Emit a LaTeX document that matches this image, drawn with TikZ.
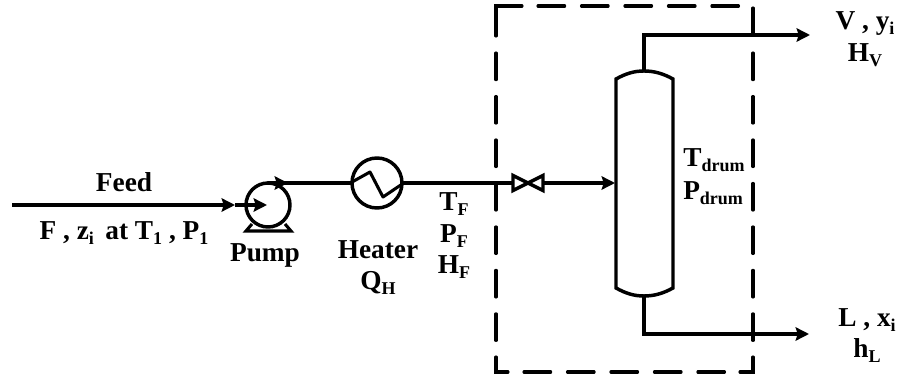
\documentclass[tikz,border=0pt]{standalone}
\usepackage{fontspec}
\setmainfont{Liberation Serif}
\usetikzlibrary{arrows.meta}
\tikzset{
 pipe/.style={line width=2.3pt,line cap=round},
 flow/.style={line width=2.3pt,-{Stealth[length=10pt,width=10pt,inset=1.5pt]}},
 equip/.style={line width=2.6pt,fill=white,draw=black},
 lbl/.style={font=\bfseries\fontsize{20.5}{22}\selectfont,inner sep=0pt,anchor=base},
 boxd/.style={line width=2.3pt,line cap=round,line join=miter,dash pattern=on 20pt off 12.6pt},
 boxs/.style={line width=2.3pt,line cap=round,line join=miter}
}
\newcommand{\sbs}[1]{\raisebox{-0.18em}{\fontsize{13.5}{14}\selectfont #1}}
\begin{document}
\begin{tikzpicture}[x=0.75pt,y=-0.75pt]
\useasboundingbox (0,0) rectangle (899,377);
% envelope
\draw[boxs] (522,6) -- (496,6) -- (496,36);
\draw[boxd] (538,6) -- (740,6);
\draw[boxd] (496,53) -- (496,342);
\draw[boxs] (496,357) -- (496,372) -- (508,372);
\draw[boxd] (524,372) -- (726,372);
\draw[boxs] (740,372) -- (753,372) -- (753,357);
\draw[boxd] (753,53) -- (753,342);
\draw[boxs] (753,8) -- (753,34);
% equipment nodes
\node[circle,equip,minimum size=33pt,inner sep=0pt] (pump) at (268,205) {};
\node[circle,equip,minimum size=37.5pt,inner sep=0pt] (heater) at (377,183) {};
\coordinate (feedstart) at (12,205);
\coordinate (feedtip) at (235,205);
\coordinate (pumpinner) at (267,205);
\coordinate (pumptop) at (268,183);
\coordinate (pumparrow) at (288,183);
\coordinate (valvein) at (513,183);
\coordinate (valveout) at (543,183);
\coordinate (drumin) at (615,183);
\coordinate (drumtop) at (644,71);
\coordinate (drumbot) at (644,296);
\coordinate (vbend) at (644,35);
\coordinate (vtip) at (810,35);
\coordinate (lbend) at (644,334);
\coordinate (ltip) at (809,334);
% pump base
\coordinate (pbl) at (246,231);
\coordinate (pbr) at (291,231);
\draw[line width=2.3pt,line join=miter] (252,224) -- (pbl) -- (pbr) -- (285,224);
% pipes
\draw[flow] (feedstart) -- (feedtip);
\draw[flow] (feedtip) -- (pumpinner);
\draw[pipe] (pumptop) -- (pumparrow);
\draw[flow] (280,183) -- (pumparrow);
\draw[pipe] (pumparrow) -- (heater.west);
\draw[pipe] (heater.east) -- (valvein);
\draw[line width=2.3pt,line join=round] (heater.west) -- (370,172) -- (383,197) -- (heater.east);
% valve
\draw[equip,line join=miter] (513,175.5) -- (543,190.5) -- (543,175.5) -- (513,190.5) -- cycle;
\draw[flow] (valveout) -- (drumin);
% drum
\draw[equip] (616,79) .. controls (626,73.5) and (634,71) .. (644,71) .. controls (654,71) and (663,73.5) .. (673,79)
  -- (673,288) .. controls (663,293.5) and (654,296) .. (644,296) .. controls (634,296) and (626,293.5) .. (616,288) -- cycle;
% outlets
\draw[flow] (drumtop) -- (vbend) -- (vtip);
\draw[flow] (drumbot) -- (lbend) -- (ltip);
% labels
\node[lbl] (tfeed) at (124,192) {Feed};
\node[lbl] (tcond) at (124,240) {F , z\sbs{i}\, at T\sbs{1} , P\sbs{1}};
\node[lbl] (tpump) at (265,262) {Pump};
\node[lbl] (theat) at (378,259) {Heater};
\node[lbl] (tqh) at (378,290) {Q\sbs{H}};
\node[lbl] (ttf) at (454,211) {T\sbs{F}};
\node[lbl] (tpf) at (454,243) {P\sbs{F}};
\node[lbl] (thf) at (454,274) {H\sbs{F}};
\node[lbl,anchor=base west] (ttd) at (683,167) {T\sbs{drum}};
\node[lbl,anchor=base west] (tpd) at (683,200) {P\sbs{drum}};
\node[lbl] (tv) at (865,30) {V , y\sbs{i}};
\node[lbl] (thv) at (865,62) {H\sbs{V}};
\node[lbl] (tl) at (867,327) {L , x\sbs{i}};
\node[lbl] (thl) at (867,358) {h\sbs{L}};
\end{tikzpicture}
\end{document}
